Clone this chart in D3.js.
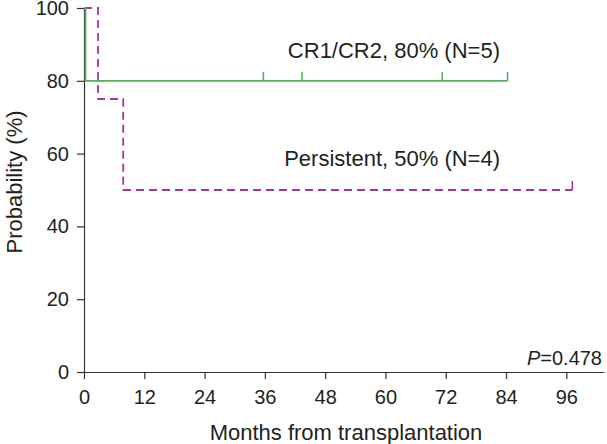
<!DOCTYPE html>
<html>
<head>
<meta charset="utf-8">
<script src="https://cdn.jsdelivr.net/npm/d3@7"></script>
<style>
  html, body { margin: 0; padding: 0; background: #fff; }
  svg { display: block; }
  text { font-family: "Liberation Sans", Arial, sans-serif; fill: #231f20; }
</style>
</head>
<body>
<svg id="chart" width="607" height="444"></svg>
<script>
// ---- data ----
const xTicks = [0, 12, 24, 36, 48, 60, 72, 84, 96];
const yTicks = [0, 20, 40, 60, 80, 100];

// CR1/CR2 group: step times (months) and survival (%)
const crTimes = [0, 0.3, 84.3];
const crSurv = [100, 80, 80];
const crCensor = [35.7, 43.4, 71.3, 84.3];

// Persistent group
const perTimes = [0, 2.8, 7.8, 97.2];
const perSurv = [100, 75, 50, 50];
const perCensor = [97.2];

const labels = ["CR1/CR2, 80% (N=5)", "Persistent, 50% (N=4)"];
const pLabel = "0.478";

// ---- layout ----
const svg = d3.select("#chart");
const x = d3.scaleLinear().domain([0, 103.5]).range([84, 604]);
const y = d3.scaleLinear().domain([0, 100]).range([372, 8]);

const green = "#5aae5a";
const purple = "#a8359e";

// axes
const xAxis = d3.axisBottom(x).tickValues(xTicks).tickSizeInner(7).tickSizeOuter(0).tickPadding(11);
const yAxis = d3.axisLeft(y).tickValues(yTicks).tickSizeInner(7).tickSizeOuter(0).tickPadding(8);

const gx = svg.append("g").attr("transform", `translate(0,${y(0)})`).call(xAxis);
const gy = svg.append("g").attr("transform", `translate(${x(0)},0)`).call(yAxis);
[gx, gy].forEach(g => {
  g.selectAll("path.domain").attr("stroke", "#333").attr("stroke-width", 1.2);
  g.selectAll(".tick line").attr("stroke", "#333").attr("stroke-width", 1.2);
  g.selectAll(".tick text").style("font-size", "20px").style("font-family", "'Liberation Sans', Arial, sans-serif").attr("fill", "#231f20");
});

// step line generator
function stepPts(times, surv) {
  return times.map((t, i) => [t, surv[i]]);
}
const line = d3.line().x(d => x(d[0])).y(d => y(d[1])).curve(d3.curveStepAfter);

// Persistent (dashed purple)
svg.append("path")
  .datum(stepPts(perTimes, perSurv))
  .attr("d", line)
  .attr("fill", "none")
  .attr("stroke", purple)
  .attr("stroke-width", 1.8)
  .attr("stroke-dasharray", "8,5");

// CR1/CR2 (solid green)
svg.append("path")
  .datum(stepPts(crTimes, crSurv))
  .attr("d", line)
  .attr("fill", "none")
  .attr("stroke", green)
  .attr("stroke-width", 1.8);

// censor marks
function survAt(times, surv, t) {
  let s = surv[0];
  times.forEach((tt, i) => { if (tt <= t) s = surv[i]; });
  return s;
}
svg.selectAll(".cr-censor").data(crCensor).enter().append("line")
  .attr("x1", d => x(d)).attr("x2", d => x(d))
  .attr("y1", d => y(survAt(crTimes, crSurv, d)))
  .attr("y2", d => y(survAt(crTimes, crSurv, d)) - 9)
  .attr("stroke", green).attr("stroke-width", 1.6);
svg.selectAll(".per-censor").data(perCensor).enter().append("line")
  .attr("x1", d => x(d)).attr("x2", d => x(d))
  .attr("y1", d => y(survAt(perTimes, perSurv, d)))
  .attr("y2", d => y(survAt(perTimes, perSurv, d)) - 9)
  .attr("stroke", purple).attr("stroke-width", 1.6);

// labels
svg.append("text").attr("x", 500).attr("y", 58).attr("text-anchor", "end")
  .style("font-size", "22px").text(labels[0]);
svg.append("text").attr("x", 500).attr("y", 166).attr("text-anchor", "end")
  .style("font-size", "22px").text(labels[1]);

const pt = svg.append("text").attr("x", 602).attr("y", 365).attr("text-anchor", "end").style("font-size", "20px");
pt.append("tspan").style("font-style", "italic").text("P");
pt.append("tspan").text("=" + pLabel);

// axis titles
svg.append("text").attr("x", 346).attr("y", 440).attr("text-anchor", "middle")
  .style("font-size", "22px").text("Months from transplantation");
svg.append("text").attr("transform", "translate(22,182) rotate(-90)").attr("text-anchor", "middle")
  .style("font-size", "22px").text("Probability (%)");
</script>
</body>
</html>
